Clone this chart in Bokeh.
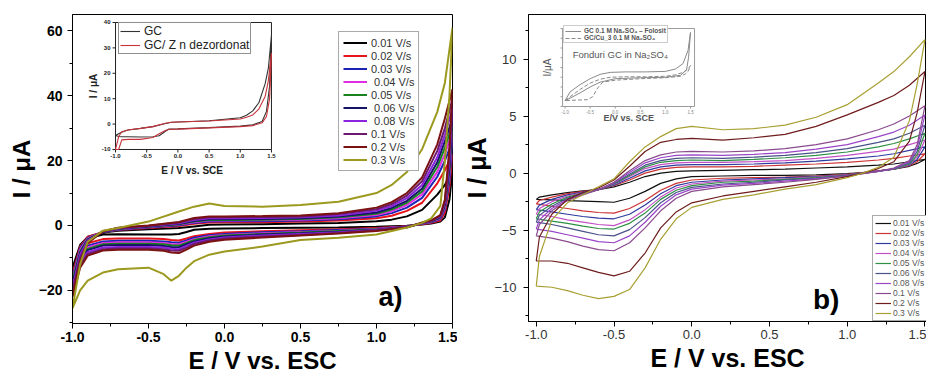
import numpy as np
from bokeh.plotting import figure
from bokeh.layouts import row
from bokeh.models import Range1d, Legend, LegendItem, Label, FixedTicker, PrintfTickFormatter
from bokeh.embed import file_html
from bokeh.resources import INLINE
from bokeh.core.properties import value

FONT = "Liberation Sans"

# ---------------- panel a) main data ----------------
A_LABELS = ["0.01 V/s", "0.02 V/s", "0.03 V/s", " 0.04 V/s", "0.05 V/s",
            " 0.06 V/s", " 0.08 V/s", "0.1 V/s", "0.2 V/s", "0.3 V/s"]
A_COLORS = ["#000000", "#e8141c", "#1c22b4", "#e22ee2", "#18821e",
            "#161466", "#8a24de", "#6c1a70", "#7a1212", "#9c9a1e"]
A_FWD_E = [-1.0, -0.95, -0.9, -0.8, -0.7, -0.5, -0.3, -0.2, -0.1, 0.0,
           0.25, 0.5, 0.75, 1.0, 1.1, 1.2, 1.3, 1.4, 1.45, 1.5]
A_REV_E = [1.5, 1.48, 1.45, 1.42, 1.36, 1.3, 1.2, 1.0, 0.75, 0.5, 0.25, 0.0,
           -0.1, -0.2, -0.25, -0.3, -0.35, -0.4, -0.5, -0.7, -0.8, -0.9, -0.95, -1.0]
A_FWD_I = [
    [-13, -6, -3.5, -2.2, -1.6, -1.2, -0.8, -0.3, 0.2, 0.3, 0.4, 0.6, 0.8, 1.3, 1.8, 2.8, 4.8, 9.5, 12.5, 17],
    [-15, -6.5, -3.5, -2.0, -1.4, -0.8, -0.2, 0.5, 0.9, 1.0, 1.0, 1.2, 1.5, 2.2, 3.0, 4.5, 7.0, 13, 17, 22],
    [-16, -7, -3.8, -2.0, -1.3, -0.6, 0.1, 0.8, 1.2, 1.3, 1.3, 1.5, 1.9, 2.8, 3.8, 5.5, 8.5, 15, 20, 26],
    [-16.5, -7.5, -4.0, -2.0, -1.2, -0.5, 0.3, 1.0, 1.5, 1.5, 1.6, 1.8, 2.2, 3.2, 4.4, 6.3, 9.6, 16.5, 22, 29],
    [-17, -8, -4.2, -2.0, -1.1, -0.4, 0.4, 1.2, 1.7, 1.7, 1.8, 2.0, 2.5, 3.6, 4.9, 7.0, 10.5, 18, 24, 31],
    [-18, -8.5, -4.4, -2.0, -1.0, -0.3, 0.5, 1.4, 1.9, 1.9, 2.0, 2.2, 2.8, 4.0, 5.4, 7.6, 11.4, 19.5, 26, 33],
    [-19, -9, -4.6, -1.9, -0.9, -0.2, 0.7, 1.7, 2.2, 2.2, 2.3, 2.5, 3.1, 4.5, 6.0, 8.4, 12.5, 21, 28, 36],
    [-20, -10, -5.0, -1.9, -0.8, -0.1, 0.9, 2.0, 2.5, 2.5, 2.6, 2.8, 3.5, 5.0, 6.6, 9.2, 13.6, 23, 30, 39],
    [-22, -11, -5.5, -1.8, -0.7, 0.0, 1.1, 2.3, 2.8, 2.8, 2.9, 3.1, 3.8, 5.5, 7.2, 10, 14.8, 25, 33, 42],
    [-25.5, -12, -5, -1.6, -0.8, 1.2, 4.3, 5.8, 6.8, 6.0, 5.8, 6.3, 7.3, 10.0, 12.5, 16.5, 23.5, 35, 44, 61],
]
A_REV_I = [
    [17, 8, 2.5, 1.2, 0.6, 0.3, -0.1, -0.4, -0.6, -0.7, -0.8, -0.9, -1.0, -1.3, -2.0, -2.6, -2.8, -2.8, -2.8, -2.7, -2.8, -4.0, -6.0, -13],
    [22, 12, 4, 1.5, 0.8, 0.4, -0.2, -0.8, -1.2, -1.5, -1.8, -2.2, -2.6, -3.3, -4.0, -4.6, -4.5, -4.2, -4.0, -4.0, -4.2, -5.5, -8, -15],
    [26, 14, 5, 2.0, 1.0, 0.5, -0.3, -1.0, -1.4, -1.8, -2.1, -2.6, -3.0, -3.8, -4.6, -5.3, -5.2, -4.9, -4.7, -4.7, -4.9, -6.2, -9, -16],
    [29, 16, 5.5, 2.2, 1.1, 0.6, -0.3, -1.1, -1.6, -2.0, -2.4, -2.9, -3.3, -4.2, -5.0, -5.8, -5.7, -5.4, -5.2, -5.2, -5.4, -6.8, -9.5, -16.5],
    [31, 17, 6, 2.4, 1.2, 0.6, -0.4, -1.2, -1.7, -2.2, -2.6, -3.1, -3.6, -4.5, -5.4, -6.2, -6.1, -5.8, -5.6, -5.6, -5.8, -7.2, -10, -17],
    [33, 18, 6.5, 2.6, 1.3, 0.7, -0.4, -1.3, -1.9, -2.4, -2.8, -3.4, -3.9, -4.9, -5.8, -6.7, -6.6, -6.3, -6.0, -6.0, -6.2, -7.6, -10.5, -18],
    [36, 20, 7, 2.8, 1.4, 0.7, -0.5, -1.4, -2.1, -2.6, -3.1, -3.7, -4.3, -5.3, -6.3, -7.3, -7.2, -6.8, -6.6, -6.6, -6.8, -8.2, -11, -19],
    [39, 22, 7.5, 3.0, 1.5, 0.8, -0.5, -1.5, -2.3, -2.9, -3.4, -4.0, -4.6, -5.7, -6.8, -7.8, -7.7, -7.3, -7.1, -7.1, -7.3, -8.8, -12, -20],
    [42, 24, 8, 3.2, 1.6, 0.9, -0.6, -1.7, -2.5, -3.1, -3.7, -4.4, -5.0, -6.2, -7.4, -8.5, -8.3, -7.8, -7.5, -7.5, -7.7, -9.3, -13, -22],
    [61, 40, 20, 6, 2.2, 0.8, -0.6, -2.8, -3.8, -4.5, -6.5, -8, -9, -11, -13, -15.5, -17, -15, -13, -13.5, -14.5, -17, -20, -25.5],
]
A_XTICKS = [-1.0, -0.5, 0.0, 0.5, 1.0, 1.5]
A_XMINOR = [-0.75, -0.25, 0.25, 0.75, 1.25]
A_YTICKS = [-20, 0, 20, 40, 60]
A_YMINOR = [-30, -10, 10, 30, 50]

# ---------------- panel a) inset data ----------------
AI_LABELS = ["GC", "GC/ Z n dezordonat"]
AI_COLORS = ["#333333", "#c8323a"]
AI_UP_E = [-1.0, -0.95, -0.9, -0.8, -0.6, -0.4, -0.2, -0.1, 0.0, 0.5, 1.0, 1.1, 1.2, 1.3, 1.4, 1.45, 1.5]
AI_LO_E = [1.5, 1.47, 1.42, 1.35, 1.2, 1.0, 0.5, 0.0, -0.15, -0.2, -0.3, -0.4, -0.6, -0.8, -0.9, -0.95, -1.0]
AI_GC_UP = [-4.5, -3.8, -3.2, -2.3, -1.7, -1.0, 0.2, 0.7, 0.8, 1.3, 2.5, 3.5, 5.2, 8.5, 16, 22, 35]
AI_GC_LO = [35, 15, 5, 1.0, -0.3, -0.8, -1.4, -1.9, -2.0, -2.8, -4.6, -5.0, -5.1, -5.0, -5.0, -4.9, -4.5]
AI_ZN_UP = [-10, -5, -3, -2.3, -1.7, -1.0, 0.3, 0.7, 0.8, 1.2, 2.0, 2.7, 3.6, 6.0, 11, 17, 28]
AI_ZN_LO = [28, 10, 3, 0.5, -0.6, -1.0, -1.5, -2.0, -2.1, -2.5, -3.8, -5.3, -6.0, -6.0, -6.2, -10, -10]
AI_XTICKS = [-1.0, -0.5, 0.0, 0.5, 1.0, 1.5]
AI_XTICK_LABELS = ["-1.0", "-0.5", "0.0", "0.5", "1.0", "1.5"]
AI_YTICKS = [-10, 0, 10, 20, 30, 40]
AI_YTICK_LABELS = ["-10", "0", "10", "20", "30", "40"]

# ---------------- panel b) main data ----------------
B_LABELS = ["0.01 V/s", "0.02 V/s", "0.03 V/s", "0.04 V/s", "0.05 V/s",
            "0.06 V/s", "0.08 V/s", "0.1 V/s", "0.2 V/s", "0.3 V/s"]
B_COLORS = ["#111111", "#cc3333", "#2f3a9e", "#c24fc6", "#2e8f45",
            "#4a5288", "#9a45c8", "#8a4a8e", "#6e1c1c", "#a8a032"]
B_UP_E = [-1.0, -0.98, -0.9, -0.8, -0.7, -0.6, -0.5, -0.4, -0.3, -0.2, -0.1,
          0.0, 0.2, 0.4, 0.6, 0.8, 1.0, 1.2, 1.3, 1.4, 1.5]
B_LO_E = [1.5, 1.45, 1.4, 1.3, 1.2, 1.1, 1.0, 0.8, 0.6, 0.4, 0.2, 0.0,
          -0.1, -0.2, -0.3, -0.4, -0.5, -0.6, -0.7, -0.8, -0.9, -1.0]
B_UP_I = [
    [-2.3, -2.1, -1.9, -1.7, -1.55, -1.45, -1.2, -0.8, -0.3, 0.0, 0.15, 0.2, 0.25, 0.3, 0.35, 0.45, 0.55, 0.7, 0.8, 1.0, 1.2],
    [-2.7, -2.4, -2.1, -1.8, -1.6, -1.45, -1.1, -0.6, 0.0, 0.35, 0.5, 0.55, 0.55, 0.6, 0.7, 0.8, 0.95, 1.15, 1.3, 1.5, 1.7],
    [-3.2, -2.8, -2.3, -1.9, -1.65, -1.45, -1.05, -0.45, 0.2, 0.55, 0.7, 0.75, 0.75, 0.8, 0.9, 1.05, 1.25, 1.5, 1.7, 2.0, 2.3],
    [-3.6, -3.1, -2.5, -2.0, -1.7, -1.45, -1.0, -0.3, 0.4, 0.75, 0.9, 0.95, 0.95, 1.0, 1.1, 1.3, 1.55, 1.9, 2.1, 2.5, 2.9],
    [-4.0, -3.4, -2.7, -2.1, -1.75, -1.45, -0.95, -0.2, 0.55, 0.95, 1.1, 1.15, 1.1, 1.2, 1.35, 1.55, 1.85, 2.3, 2.6, 3.0, 3.5],
    [-4.3, -3.7, -2.9, -2.2, -1.8, -1.45, -0.9, -0.1, 0.7, 1.1, 1.3, 1.35, 1.3, 1.4, 1.55, 1.8, 2.15, 2.7, 3.0, 3.5, 4.2],
    [-4.9, -4.1, -3.1, -2.3, -1.85, -1.45, -0.85, 0.05, 0.9, 1.35, 1.55, 1.6, 1.55, 1.65, 1.8, 2.1, 2.5, 3.2, 3.6, 4.2, 5.1],
    [-5.5, -4.5, -3.3, -2.4, -1.9, -1.45, -0.8, 0.2, 1.1, 1.6, 1.85, 1.9, 1.85, 1.95, 2.15, 2.5, 3.0, 3.8, 4.3, 5.0, 5.9],
    [-7.7, -5.6, -3.6, -2.3, -1.7, -1.3, -0.6, 0.6, 1.9, 2.7, 2.95, 3.05, 2.9, 3.1, 3.4, 4.1, 5.1, 6.2, 6.8, 7.7, 8.9],
    [-9.9, -7.3, -4.1, -2.6, -1.9, -1.2, -0.5, 1.0, 2.3, 3.2, 3.9, 4.1, 3.8, 3.9, 4.2, 4.9, 6.0, 7.9, 8.9, 10.2, 11.7],
]
B_LO_I = [
    [1.2, 0.85, 0.6, 0.35, 0.2, 0.05, -0.05, -0.15, -0.2, -0.2, -0.25, -0.3, -0.5, -0.9, -1.6, -2.2, -2.55, -2.5, -2.45, -2.4, -2.35, -2.3],
    [1.7, 1.0, 0.65, 0.35, 0.2, 0.05, -0.1, -0.25, -0.35, -0.4, -0.45, -0.6, -0.9, -1.5, -2.4, -3.1, -3.5, -3.45, -3.3, -3.1, -2.9, -2.7],
    [2.3, 1.2, 0.7, 0.35, 0.2, 0.0, -0.15, -0.3, -0.4, -0.5, -0.6, -0.8, -1.1, -1.8, -2.8, -3.6, -4.0, -3.95, -3.8, -3.6, -3.4, -3.2],
    [2.9, 1.4, 0.75, 0.35, 0.2, 0.0, -0.15, -0.35, -0.5, -0.6, -0.7, -0.95, -1.3, -2.1, -3.2, -4.1, -4.6, -4.5, -4.3, -4.1, -3.8, -3.6],
    [3.5, 1.6, 0.8, 0.35, 0.15, 0.0, -0.2, -0.4, -0.55, -0.7, -0.8, -1.1, -1.5, -2.3, -3.5, -4.4, -4.9, -4.85, -4.65, -4.4, -4.2, -4.0],
    [4.2, 1.9, 0.9, 0.4, 0.15, 0.0, -0.2, -0.45, -0.6, -0.8, -0.95, -1.25, -1.7, -2.6, -3.9, -4.95, -5.5, -5.4, -5.1, -4.8, -4.5, -4.3],
    [5.1, 2.2, 1.0, 0.4, 0.15, -0.05, -0.25, -0.5, -0.7, -0.9, -1.05, -1.4, -1.9, -2.9, -4.3, -5.5, -6.1, -6.0, -5.7, -5.4, -5.1, -4.9],
    [5.9, 2.5, 1.1, 0.45, 0.15, -0.05, -0.25, -0.55, -0.8, -1.0, -1.2, -1.6, -2.2, -3.3, -4.8, -6.1, -6.8, -6.7, -6.4, -6.0, -5.7, -5.5],
    [8.9, 5.3, 2.8, 1.0, 0.4, 0.0, -0.3, -0.8, -1.2, -1.6, -2.0, -2.6, -3.4, -4.8, -7.0, -8.6, -9.0, -8.7, -8.3, -7.9, -7.7, -7.7],
    [11.7, 7.8, 4.6, 1.4, 0.5, 0.0, -0.4, -1.0, -1.4, -1.9, -2.3, -3.0, -4.0, -5.8, -8.3, -10.2, -10.8, -11.0, -10.7, -10.3, -10.0, -9.9],
]
B_XTICKS = [-1.0, -0.5, 0.0, 0.5, 1.0, 1.5]
B_XMINOR = [-0.75, -0.25, 0.25, 0.75, 1.25]
B_YTICKS = [-10, -5, 0, 5, 10]
B_YMINOR = [-12.5, -7.5, -2.5, 2.5, 7.5, 12.5]

# ---------------- panel b) inset data ----------------
BI_LABELS = ["GC 0.1 M Na\u2082SO\u2084 \u2013 Folosit", "GC/Cu_3 0.1 M Na\u2082SO\u2084"]
BI_F_UP_E = [-1.0, -0.9, -0.7, -0.5, -0.3, -0.1, 0.2, 0.6, 1.0, 1.2, 1.35, 1.45, 1.5]
BI_F_UP = [-6.8, -5.0, -3.5, -2.3, -1.4, -1.0, -0.9, -0.9, -0.8, -0.3, 0.8, 3.5, 7.2]
BI_F_LO_E = [1.5, 1.46, 1.42, 1.3, 1.0, 0.5, 0.0, -0.3, -0.5, -0.7, -0.9, -1.0]
BI_F_LO = [7.2, 2.0, -0.5, -1.6, -2.0, -2.1, -2.3, -3.0, -4.0, -5.2, -6.3, -6.8]
BI_C_UP_E = [-1.0, -0.9, -0.7, -0.5, -0.3, -0.1, 0.2, 0.6, 1.0, 1.2, 1.35, 1.45, 1.5]
BI_C_UP = [-6.8, -6.0, -4.5, -3.2, -2.4, -2.0, -1.9, -1.9, -1.8, -1.5, -1.0, -0.3, 0.4]
BI_C_LO_E = [1.5, 1.45, 1.4, 1.3, 1.0, 0.5, 0.0, -0.25, -0.35, -0.45, -0.55, -0.8, -1.0]
BI_C_LO = [0.4, -0.8, -1.3, -1.8, -2.1, -2.3, -2.6, -3.0, -4.2, -6.0, -6.6, -6.7, -6.8]
BI_XTICKS = [-1.0, -0.5, 0.0, 0.5, 1.0, 1.5]
BI_XTICK_LABELS = ["-1.0", "-0.5", "0.0", "0.5", "1.0", "1.5"]
BI_YTICKS = [-8, -6, -4, -2, 0, 2, 4, 6, 8]


def style_axes(p, tick_size, tick_style, tick_color, label_size, xlab_stand, ylab_stand):
    p.grid.visible = False
    p.outline_line_color = "black"
    p.outline_line_width = 1
    p.outline_line_alpha = 1.0
    p.background_fill_color = "white"
    p.border_fill_color = "white"
    for ax in (p.xaxis[0], p.yaxis[0]):
        ax.axis_line_color = "black"
        ax.major_tick_line_color = "black"
        ax.minor_tick_line_color = "black"
        ax.major_tick_in = 0
        ax.major_tick_out = 5
        ax.minor_tick_in = 0
        ax.minor_tick_out = 3
        ax.major_label_text_font = FONT
        ax.major_label_text_font_size = tick_size
        ax.major_label_text_font_style = tick_style
        ax.major_label_text_color = tick_color
        ax.axis_label_text_font = FONT
        ax.axis_label_text_font_size = label_size
        ax.axis_label_text_font_style = "bold"
        ax.axis_label_text_color = "black"
    p.xaxis[0].axis_label = "E / V vs. ESC"
    p.yaxis[0].axis_label = "I / \u03bcA"
    p.xaxis[0].major_label_standoff = 3
    p.yaxis[0].major_label_standoff = 5
    p.xaxis[0].axis_label_standoff = xlab_stand
    p.yaxis[0].axis_label_standoff = ylab_stand
    p.xaxis[0].formatter = PrintfTickFormatter(format="%.1f")


# ======================= panel a =======================
pa = figure(frame_width=380, frame_height=309, x_range=Range1d(-1.0, 1.5), y_range=Range1d(-30.2, 65.0),
            output_backend="svg", toolbar_location=None,
            min_border_left=72, min_border_right=5, min_border_top=13, min_border_bottom=54)
style_axes(pa, "14px", "bold", "black", "24px", 2, 1)
pa.xaxis[0].ticker = FixedTicker(ticks=A_XTICKS, minor_ticks=A_XMINOR)
pa.yaxis[0].ticker = FixedTicker(ticks=A_YTICKS, minor_ticks=A_YMINOR)

a_rends = []
for col, fi, ri in zip(A_COLORS, A_FWD_I, A_REV_I):
    a_rends.append(pa.line(A_FWD_E + A_REV_E, fi + ri, line_color=col, line_width=2.0))

leg_a = Legend(items=[LegendItem(label=l, renderers=[r]) for l, r in zip(A_LABELS, a_rends)],
               location=(266, 152), orientation="vertical",
               label_text_font=FONT, label_text_font_size="11px", label_text_color="#333333",
               glyph_width=24, glyph_height=13, label_height=13, label_standoff=4,
               spacing=0, padding=4, margin=0,
               border_line_color="#555555", border_line_width=1,
               background_fill_color="white", background_fill_alpha=1.0)
pa.add_layout(leg_a)

# inset of panel a
ins_a = pa.subplot(x_source=Range1d(-1.0, 1.5), y_source=Range1d(-10, 40),
                   x_target=Range1d(-0.717, 0.309), y_target=Range1d(23.41, 62.54))
ins_a.quad(left=[-1.0], right=[1.5], bottom=[-10], top=[40],
           fill_color="white", line_color="#222222", line_width=1)
ins_a.ray(x=[-1.0] * len(AI_YTICKS), y=AI_YTICKS, length=3, length_units="screen",
          angle=np.pi, line_color="#222222", line_width=1)
ins_a.ray(x=AI_XTICKS, y=[-10] * len(AI_XTICKS), length=3, length_units="screen",
          angle=-np.pi / 2, line_color="#222222", line_width=1)
ins_a.text(x=[-1.0] * len(AI_YTICKS), y=AI_YTICKS, text=AI_YTICK_LABELS, x_offset=-5,
           text_align="right", text_baseline="middle", text_font=value(FONT),
           text_font_size="6px", text_font_style="bold", text_color="#222222")
ins_a.text(x=AI_XTICKS, y=[-10] * len(AI_XTICKS), text=AI_XTICK_LABELS, y_offset=5,
           text_align="center", text_baseline="top", text_font=value(FONT),
           text_font_size="6px", text_font_style="bold", text_color="#222222")
ins_a.text(x=[-1.0], y=[15], text=["I / \u03bcA"], angle=np.pi / 2, x_offset=-22,
           text_align="center", text_baseline="middle", text_font=value(FONT),
           text_font_size="10px", text_font_style="bold", text_color="#222222")
ins_a.text(x=[0.25], y=[-10], text=["E  / V vs. SCE"], y_offset=21,
           text_align="center", text_baseline="middle", text_font=value(FONT),
           text_font_size="10px", text_font_style="bold", text_color="#222222")
ai_r1 = ins_a.line(AI_UP_E + AI_LO_E, AI_GC_UP + AI_GC_LO, line_color=AI_COLORS[0], line_width=1.1)
ai_r2 = ins_a.line(AI_UP_E + AI_LO_E, AI_ZN_UP + AI_ZN_LO, line_color=AI_COLORS[1], line_width=1.1)
leg_ai = Legend(items=[LegendItem(label=AI_LABELS[0], renderers=[ai_r1]),
                       LegendItem(label=AI_LABELS[1], renderers=[ai_r2])],
                location=(46, 269), label_text_font=FONT, label_text_font_size="12px",
                label_text_line_height=0.95,
                label_text_color="#222222", glyph_width=20, glyph_height=12, label_height=12,
                label_standoff=4, spacing=0, padding=1, margin=0,
                border_line_color="#222222", border_line_width=1,
                background_fill_color="white", background_fill_alpha=1.0)
pa.add_layout(leg_ai)

pa.add_layout(Label(x=1.013, y=-26.8, text="a)", text_font=FONT, text_font_size="27px",
                    text_font_style="bold", text_color="black"))

# ======================= panel b =======================
pb = figure(frame_width=398, frame_height=307, x_range=Range1d(-1.05, 1.51), y_range=Range1d(-13.0, 13.9),
            output_backend="svg", toolbar_location=None,
            min_border_left=71, min_border_right=0, min_border_top=14, min_border_bottom=55)
style_axes(pb, "13px", "normal", "#333333", "25px", 2, 0)
pb.xaxis[0].ticker = FixedTicker(ticks=B_XTICKS, minor_ticks=B_XMINOR)
pb.yaxis[0].ticker = FixedTicker(ticks=B_YTICKS, minor_ticks=B_YMINOR)
pb.yaxis[0].major_label_standoff = 7

b_rends = []
for col, ui, li in zip(B_COLORS, B_UP_I, B_LO_I):
    b_rends.append(pb.line(B_UP_E + B_LO_E, ui + li, line_color=col, line_width=1.2))

leg_b = Legend(items=[LegendItem(label=l, renderers=[r]) for l, r in zip(B_LABELS, b_rends)],
               location=(344, 0), label_text_font=FONT, label_text_font_size="8.5px",
               label_text_color="#555555", glyph_width=16, glyph_height=10, label_height=10,
               label_standoff=2, spacing=0, padding=2, margin=0,
               border_line_color="#555555", border_line_width=1,
               background_fill_color="white", background_fill_alpha=1.0)
pb.add_layout(leg_b)

# inset of panel b
ins_b = pb.subplot(x_source=Range1d(-1.05, 1.58), y_source=Range1d(-8, 8),
                   x_target=Range1d(-0.831, 0.018), y_target=Range1d(5.84, 12.67))
ins_b.quad(left=[-1.05], right=[1.58], bottom=[-8], top=[8],
           fill_color="white", line_color="#9a9a9a", line_width=1)
ins_b.ray(x=[-1.05] * len(BI_YTICKS), y=BI_YTICKS, length=2, length_units="screen",
          angle=np.pi, line_color="#9a9a9a", line_width=1)
ins_b.ray(x=BI_XTICKS, y=[-8] * len(BI_XTICKS), length=2, length_units="screen",
          angle=-np.pi / 2, line_color="#9a9a9a", line_width=1)
ins_b.text(x=BI_XTICKS, y=[-8] * len(BI_XTICKS), text=BI_XTICK_LABELS, y_offset=4,
           text_align="center", text_baseline="top", text_font=value(FONT),
           text_font_size="4.5px", text_color="#888888")
ins_b.text(x=[-1.05], y=[0], text=["I/\u03bcA"], angle=np.pi / 2, x_offset=-15,
           text_align="center", text_baseline="middle", text_font=value(FONT),
           text_font_size="10px", text_color="#555555")
ins_b.text(x=[0.27], y=[-8], text=["E/V vs. SCE"], y_offset=12,
           text_align="center", text_baseline="middle", text_font=value(FONT),
           text_font_size="9px", text_font_style="bold", text_color="#555555")
ins_b.text(x=[0.1], y=[2.6], text=["Fonduri GC in Na\u2082SO\u2084"],
           text_align="center", text_baseline="middle", text_font=value(FONT),
           text_font_size="9.5px", text_color="#555555")
bi_r1 = ins_b.line(BI_F_UP_E + BI_F_LO_E, BI_F_UP + BI_F_LO, line_color="#8a8a8a", line_width=1)
bi_r2 = ins_b.line(BI_C_UP_E + BI_C_LO_E, BI_C_UP + BI_C_LO, line_color="#8a8a8a",
                   line_width=1, line_dash="4 2")
leg_bi = Legend(items=[LegendItem(label=BI_LABELS[0], renderers=[bi_r1]),
                       LegendItem(label=BI_LABELS[1], renderers=[bi_r2])],
                location=(35, 278), label_text_font=FONT, label_text_font_size="6.5px",
                label_text_font_style="bold",
                label_text_color="#555555", glyph_width=16, glyph_height=6, label_height=6,
                label_standoff=3, spacing=0, padding=1, margin=0,
                border_line_color="#9a9a9a", border_line_width=1,
                background_fill_color="white", background_fill_alpha=1.0)
pb.add_layout(leg_bi)

pb.add_layout(Label(x=0.78, y=-12.4, text="b)", text_font=FONT, text_font_size="28px",
                    text_font_style="bold", text_color="black"))

layout = row(pa, pb)
open("out.html", "w").write(file_html(layout, INLINE))
